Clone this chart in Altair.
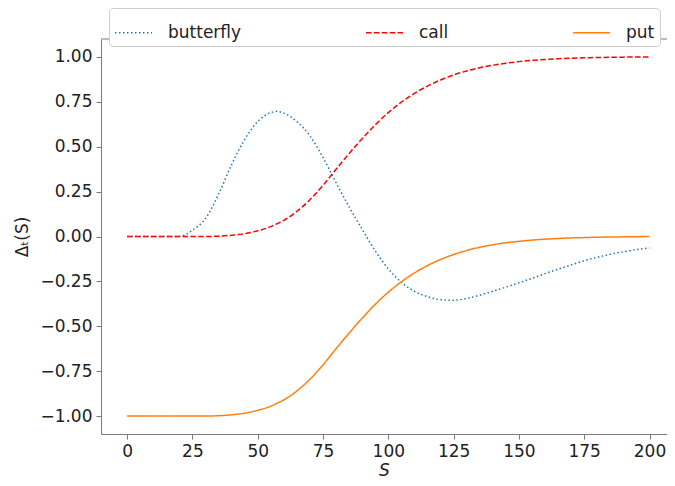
import altair as alt
import pandas as pd

S = [0, 5, 10, 15, 20, 25, 30, 35, 40, 45, 50, 55, 57.5, 60, 65, 70, 75, 80, 85, 90,
     95, 100, 105, 110, 115, 120, 125, 130, 135, 140, 145, 150, 155, 160, 165, 170,
     175, 180, 185, 190, 195, 200]

butterfly = [0.0, 0.0, 0.0, 0.0, 0.0, 0.035, 0.10, 0.235, 0.40, 0.54, 0.64, 0.69, 0.697,
             0.687, 0.64, 0.56, 0.44, 0.30, 0.165, 0.04, -0.08, -0.18, -0.255, -0.305,
             -0.335, -0.352, -0.355, -0.345, -0.327, -0.305, -0.282, -0.258, -0.233,
             -0.207, -0.182, -0.158, -0.135, -0.116, -0.099, -0.085, -0.073, -0.064]

call = [0.0, 0.0, 0.0, 0.0, 0.0, 0.0, 0.0, 0.002, 0.007, 0.016, 0.032, 0.055, 0.072,
        0.09, 0.14, 0.205, 0.285, 0.375, 0.462, 0.545, 0.622, 0.69, 0.748, 0.797, 0.838,
        0.872, 0.9, 0.922, 0.94, 0.954, 0.965, 0.974, 0.981, 0.986, 0.99, 0.993, 0.995,
        0.997, 0.998, 0.999, 1.0, 1.0]

put = [-1.0, -1.0, -1.0, -1.0, -1.0, -1.0, -1.0, -0.998, -0.993, -0.984, -0.968, -0.945,
       -0.928, -0.91, -0.86, -0.795, -0.715, -0.625, -0.538, -0.455, -0.378, -0.31, -0.252,
       -0.203, -0.162, -0.128, -0.1, -0.078, -0.06, -0.046, -0.035, -0.027, -0.02, -0.015,
       -0.011, -0.008, -0.006, -0.004, -0.003, -0.002, -0.001, 0.0]

series_names = ["butterfly", "call", "put"]
series_colors = ["#1f77b4", "#ff0000", "#ff7f0e"]
series_dashes = [[1.5, 2.5], [5.5, 2.4], [1, 0]]

x_ticks = [0, 25, 50, 75, 100, 125, 150, 175, 200]
y_ticks = [-1.0, -0.75, -0.5, -0.25, 0.0, 0.25, 0.5, 0.75, 1.0]

rows = []
for name, vals in zip(series_names, [butterfly, call, put]):
    for s, v in zip(S, vals):
        rows.append({"S": s, "delta": v, "series": name})
df = pd.DataFrame(rows)

FONT = "DejaVu Sans"
AX = "#7a7a7a"
TXT = "#222222"

legend = alt.Legend(
    title=None, orient="none", legendX=8, legendY=-31, direction="horizontal",
    columns=3, columnPadding=121, symbolType="stroke", symbolSize=1369,
    symbolStrokeWidth=1.5, labelFont=FONT, labelFontSize=17, labelColor=TXT,
    labelOffset=15, padding=5, strokeColor="#cccccc", fillColor="white",
    cornerRadius=4,
)

lines = alt.Chart(df).mark_line(strokeWidth=1.5, interpolate="monotone").encode(
    x=alt.X("S:Q", scale=alt.Scale(domain=[-10, 206.7], nice=False, zero=False),
            axis=alt.Axis(values=x_ticks, title="S", titleFontStyle="italic",
                          grid=False, format="d")),
    y=alt.Y("delta:Q", scale=alt.Scale(domain=[-1.1, 1.1], nice=False, zero=False),
            axis=alt.Axis(values=y_ticks, title="Δₜ(S)", format=".2f", grid=False)),
    color=alt.Color("series:N", scale=alt.Scale(domain=series_names, range=series_colors),
                    legend=legend),
    strokeDash=alt.StrokeDash("series:N",
                              scale=alt.Scale(domain=series_names, range=series_dashes),
                              legend=legend),
)

top_frame = alt.Chart(pd.DataFrame({"y": [1.1]})).mark_rule(
    color=AX, strokeWidth=1
).encode(y=alt.Y("y:Q"))

chart = alt.layer(lines, top_frame).properties(
    width=566, height=395,
    autosize=alt.AutoSizeParams(type="none"),
    padding={"left": 93, "top": 31, "right": 0, "bottom": 44},
).configure_view(stroke=None).configure_axis(
    labelFont=FONT, labelFontSize=17, labelColor=TXT,
    titleFont=FONT, titleFontSize=17, titleColor=TXT, titleFontWeight="normal",
    domainColor=AX, domainWidth=1, tickColor=AX, tickSize=5, tickWidth=1,
    labelPadding=4,
).configure_axisX(titlePadding=3).configure_axisY(titlePadding=8)

chart.save("out.html", embed_options={"renderer": "svg", "actions": False})
